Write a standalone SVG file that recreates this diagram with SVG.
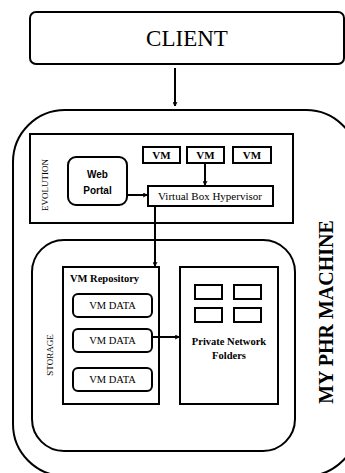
<svg xmlns="http://www.w3.org/2000/svg" width="345" height="473" viewBox="0 0 345 473">
<defs>
<style>
.b{fill:#fff;stroke:#000;stroke-width:2}
.ser{font-family:"Liberation Serif","Times New Roman",serif;fill:#000}
.san{font-family:"Liberation Sans",Arial,sans-serif;fill:#000}
.c{stroke:#000;stroke-width:2;fill:none}
</style>
<marker id="ah" viewBox="0 0 10 10" refX="9" refY="5" markerWidth="5" markerHeight="5" orient="auto" markerUnits="userSpaceOnUse">
<path d="M1,1 L9,5 L1,9" fill="none" stroke="#000" stroke-width="2"/>
</marker>
</defs>
<rect width="345" height="473" fill="#fff"/>
<g id="client">
<rect class="b" x="30" y="12" width="314" height="52" rx="6"/>
<text class="ser" x="187" y="46" font-size="23" text-anchor="middle">CLIENT</text>
</g>
<g id="machine">
<rect class="b" x="13" y="110" width="345" height="366" rx="52"/>
<text class="ser" x="0" y="0" font-size="20" font-weight="bold" text-anchor="middle" transform="translate(333,312) rotate(-90)">MY PHR MACHINE</text>
</g>
<g id="evolution">
<rect class="b" x="30" y="134" width="263" height="89"/>
<text class="ser" x="0" y="0" font-size="9" text-anchor="middle" transform="translate(48,185) rotate(-90)">EVOLUTION</text>
</g>
<g id="vm1"><rect class="b" x="143" y="147" width="37" height="16"/><text class="ser" x="161.5" y="159" font-size="11" font-weight="bold" text-anchor="middle">VM</text></g>
<g id="vm2"><rect class="b" x="187" y="147" width="37" height="16"/><text class="ser" x="205.5" y="159" font-size="11" font-weight="bold" text-anchor="middle">VM</text></g>
<g id="vm3"><rect class="b" x="233" y="147" width="38" height="16"/><text class="ser" x="252" y="159" font-size="11" font-weight="bold" text-anchor="middle">VM</text></g>
<g id="webportal">
<rect class="b" x="68" y="157" width="59" height="48" rx="8"/>
<text class="san" x="97.5" y="178" font-size="10" font-weight="bold" text-anchor="middle">Web</text>
<text class="san" x="97.5" y="194" font-size="10" font-weight="bold" text-anchor="middle">Portal</text>
</g>
<g id="hypervisor">
<rect class="b" x="148" y="186" width="125" height="20"/>
<text class="ser" x="210" y="200" font-size="11" text-anchor="middle">Virtual Box Hypervisor</text>
</g>
<g id="storage">
<rect class="b" x="32" y="240" width="263" height="211" rx="32"/>
<text class="ser" x="0" y="0" font-size="9" text-anchor="middle" transform="translate(53,355) rotate(-90)">STORAGE</text>
</g>
<g id="repository">
<rect class="b" x="63" y="267" width="96" height="137"/>
<text class="ser" x="70" y="282" font-size="10.5" font-weight="bold">VM Repository</text>
</g>
<g id="vmdata1"><rect class="b" x="73" y="294" width="79" height="23" rx="5"/><text class="ser" x="112.5" y="309" font-size="10.5" text-anchor="middle">VM DATA</text></g>
<g id="vmdata2"><rect class="b" x="73" y="329" width="79" height="23" rx="5"/><text class="ser" x="112.5" y="344" font-size="10.5" text-anchor="middle">VM DATA</text></g>
<g id="vmdata3"><rect class="b" x="73" y="368" width="79" height="23" rx="5"/><text class="ser" x="112.5" y="383" font-size="10.5" text-anchor="middle">VM DATA</text></g>
<g id="folders">
<rect class="b" x="180" y="267" width="98" height="137"/>
<rect class="b" x="195" y="285" width="27" height="14"/>
<rect class="b" x="234" y="285" width="27" height="14"/>
<rect class="b" x="195" y="308" width="27" height="14"/>
<rect class="b" x="234" y="308" width="27" height="14"/>
<text class="ser" x="229" y="345" font-size="10.5" font-weight="bold" text-anchor="middle">Private Network</text>
<text class="ser" x="229" y="359" font-size="10.5" font-weight="bold" text-anchor="middle">Folders</text>
</g>
<g id="connectors">
<line class="c" x1="175" y1="68" x2="175" y2="106" marker-end="url(#ah)"/>
<line class="c" x1="205" y1="163" x2="205" y2="185" marker-end="url(#ah)"/>
<line class="c" x1="127" y1="195" x2="147" y2="195" marker-end="url(#ah)"/>
<line class="c" x1="155" y1="206" x2="155" y2="266" marker-end="url(#ah)"/>
<line class="c" x1="152" y1="337" x2="179" y2="337" marker-end="url(#ah)"/>
</g>
</svg>
